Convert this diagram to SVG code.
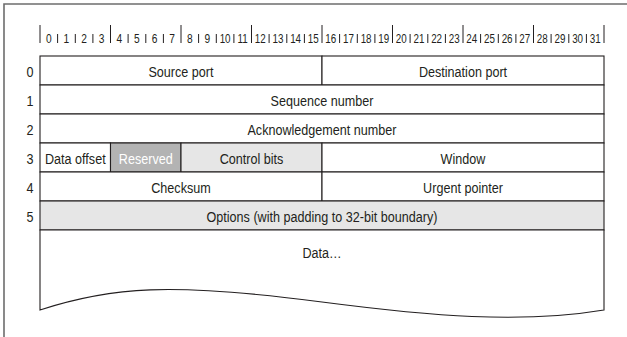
<svg xmlns="http://www.w3.org/2000/svg" width="627" height="337" viewBox="0 0 627 337">
<style>
text{font-family:"Liberation Sans",Arial,sans-serif;fill:#231f20;text-anchor:middle}
.lbl{font-size:15px}
.bit{font-size:12px}
.cell{stroke:#231f20;stroke-width:1.1;fill:#fff}
.g1{fill:#e6e6e6}
.g2{fill:#b3b3b3}
.tick{stroke:#231f20;stroke-width:1}
.frame{stroke:#6d6d6d;stroke-width:1.6;fill:none}
</style>
<rect width="627" height="337" fill="#fff"/>
<path class="frame" d="M4,337 V4 H627"/>
<g id="bit-scale">
<g class="tick">
<line x1="40" y1="25" x2="40" y2="43"/><line x1="57.6" y1="34" x2="57.6" y2="43"/><line x1="75.3" y1="34" x2="75.3" y2="43"/><line x1="92.9" y1="34" x2="92.9" y2="43"/>
<line x1="110.5" y1="25" x2="110.5" y2="43"/><line x1="128.1" y1="34" x2="128.1" y2="43"/><line x1="145.8" y1="34" x2="145.8" y2="43"/><line x1="163.4" y1="34" x2="163.4" y2="43"/>
<line x1="181" y1="25" x2="181" y2="43"/><line x1="198.6" y1="34" x2="198.6" y2="43"/><line x1="216.3" y1="34" x2="216.3" y2="43"/><line x1="233.9" y1="34" x2="233.9" y2="43"/>
<line x1="251.5" y1="25" x2="251.5" y2="43"/><line x1="269.1" y1="34" x2="269.1" y2="43"/><line x1="286.8" y1="34" x2="286.8" y2="43"/><line x1="304.4" y1="34" x2="304.4" y2="43"/>
<line x1="322" y1="25" x2="322" y2="43"/><line x1="339.6" y1="34" x2="339.6" y2="43"/><line x1="357.3" y1="34" x2="357.3" y2="43"/><line x1="374.9" y1="34" x2="374.9" y2="43"/>
<line x1="392.5" y1="25" x2="392.5" y2="43"/><line x1="410.1" y1="34" x2="410.1" y2="43"/><line x1="427.8" y1="34" x2="427.8" y2="43"/><line x1="445.4" y1="34" x2="445.4" y2="43"/>
<line x1="463" y1="25" x2="463" y2="43"/><line x1="480.6" y1="34" x2="480.6" y2="43"/><line x1="498.3" y1="34" x2="498.3" y2="43"/><line x1="515.9" y1="34" x2="515.9" y2="43"/>
<line x1="533.5" y1="25" x2="533.5" y2="43"/><line x1="551.1" y1="34" x2="551.1" y2="43"/><line x1="568.8" y1="34" x2="568.8" y2="43"/><line x1="586.4" y1="34" x2="586.4" y2="43"/>
<line x1="604" y1="25" x2="604" y2="43"/>
</g>
<g class="bit">
<text transform="translate(48.8,43) scale(0.85,1)">0</text><text transform="translate(66.4,43) scale(0.85,1)">1</text><text transform="translate(84.1,43) scale(0.85,1)">2</text><text transform="translate(101.7,43) scale(0.85,1)">3</text>
<text transform="translate(119.3,43) scale(0.85,1)">4</text><text transform="translate(136.9,43) scale(0.85,1)">5</text><text transform="translate(154.6,43) scale(0.85,1)">6</text><text transform="translate(172.2,43) scale(0.85,1)">7</text>
<text transform="translate(189.8,43) scale(0.85,1)">8</text><text transform="translate(207.4,43) scale(0.85,1)">9</text><text transform="translate(225.1,43) scale(0.82,1)">10</text><text transform="translate(242.7,43) scale(0.82,1)">11</text>
<text transform="translate(260.3,43) scale(0.82,1)">12</text><text transform="translate(277.9,43) scale(0.82,1)">13</text><text transform="translate(295.6,43) scale(0.82,1)">14</text><text transform="translate(313.2,43) scale(0.82,1)">15</text>
<text transform="translate(330.8,43) scale(0.82,1)">16</text><text transform="translate(348.4,43) scale(0.82,1)">17</text><text transform="translate(366.1,43) scale(0.82,1)">18</text><text transform="translate(383.7,43) scale(0.82,1)">19</text>
<text transform="translate(401.3,43) scale(0.82,1)">20</text><text transform="translate(418.9,43) scale(0.82,1)">21</text><text transform="translate(436.6,43) scale(0.82,1)">22</text><text transform="translate(454.2,43) scale(0.82,1)">23</text>
<text transform="translate(471.8,43) scale(0.82,1)">24</text><text transform="translate(489.4,43) scale(0.82,1)">25</text><text transform="translate(507.1,43) scale(0.82,1)">26</text><text transform="translate(524.7,43) scale(0.82,1)">27</text>
<text transform="translate(542.3,43) scale(0.82,1)">28</text><text transform="translate(559.9,43) scale(0.82,1)">29</text><text transform="translate(577.6,43) scale(0.82,1)">30</text><text transform="translate(595.2,43) scale(0.82,1)">31</text>
</g>
</g>
<g id="row-labels" class="lbl">
<text transform="translate(30,76.5) scale(0.84,1)">0</text><text transform="translate(30,105.5) scale(0.84,1)">1</text><text transform="translate(30,134.5) scale(0.84,1)">2</text>
<text transform="translate(30,163.5) scale(0.84,1)">3</text><text transform="translate(30,192.5) scale(0.84,1)">4</text><text transform="translate(30,221.5) scale(0.84,1)">5</text>
</g>
<g id="source-port"><rect class="cell" x="40" y="56" width="282" height="29"/><text class="lbl" transform="translate(181,76.5) scale(0.84,1)">Source port</text></g>
<g id="destination-port"><rect class="cell" x="322" y="56" width="282" height="29"/><text class="lbl" transform="translate(463,76.5) scale(0.84,1)">Destination port</text></g>
<g id="sequence-number"><rect class="cell" x="40" y="85" width="564" height="29"/><text class="lbl" transform="translate(322,105.5) scale(0.84,1)">Sequence number</text></g>
<g id="ack-number"><rect class="cell" x="40" y="114" width="564" height="29"/><text class="lbl" transform="translate(322,134.5) scale(0.84,1)">Acknowledgement number</text></g>
<g id="data-offset"><rect class="cell" x="40" y="143" width="70.5" height="29"/><text class="lbl" transform="translate(75.3,163.5) scale(0.84,1)">Data offset</text></g>
<g id="reserved"><rect class="cell g2" x="110.5" y="143" width="70.5" height="29"/><text class="lbl" transform="translate(145.8,163.5) scale(0.84,1)" style="fill:#fff">Reserved</text></g>
<g id="control-bits"><rect class="cell g1" x="181" y="143" width="141" height="29"/><text class="lbl" transform="translate(251.5,163.5) scale(0.84,1)">Control bits</text></g>
<g id="window"><rect class="cell" x="322" y="143" width="282" height="29"/><text class="lbl" transform="translate(463,163.5) scale(0.84,1)">Window</text></g>
<g id="checksum"><rect class="cell" x="40" y="172" width="282" height="29"/><text class="lbl" transform="translate(181,192.5) scale(0.84,1)">Checksum</text></g>
<g id="urgent-pointer"><rect class="cell" x="322" y="172" width="282" height="29"/><text class="lbl" transform="translate(463,192.5) scale(0.84,1)">Urgent pointer</text></g>
<g id="options"><rect class="cell g1" x="40" y="201" width="564" height="29"/><text class="lbl" transform="translate(322,221.5) scale(0.84,1)">Options (with padding to 32-bit boundary)</text></g>
<g id="data"><path class="cell" d="M40,230 H604 V310 C520,324 430,316 322,302 C170,282 110,287 40,310 Z"/><text class="lbl" transform="translate(322,258) scale(0.84,1)">Data…</text></g>
<g id="connectors"/>
</svg>
